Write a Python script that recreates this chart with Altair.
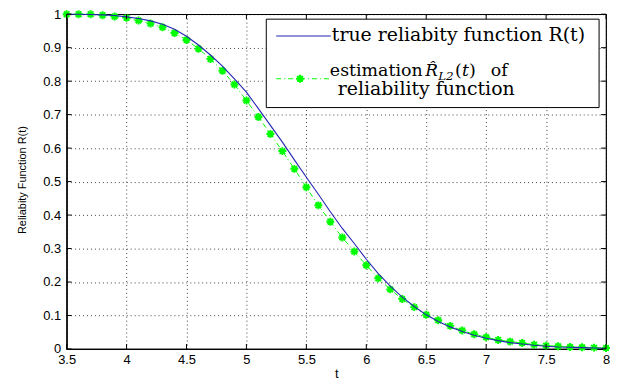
import altair as alt
import pandas as pd

t_values = [3.5, 3.6, 3.7, 3.8, 3.9, 4.0, 4.1, 4.2, 4.3, 4.4, 4.5, 4.6, 4.7, 4.8, 4.9,
            5.0, 5.1, 5.2, 5.3, 5.4, 5.5, 5.6, 5.7, 5.8, 5.9, 6.0, 6.1, 6.2, 6.3, 6.4,
            6.5, 6.6, 6.7, 6.8, 6.9, 7.0, 7.1, 7.2, 7.3, 7.4, 7.5, 7.6, 7.7, 7.8, 7.9, 8.0]
true_R = [1.0, 1.0, 0.999, 0.998, 0.996, 0.992, 0.987, 0.980, 0.970, 0.955, 0.934, 0.908,
          0.878, 0.845, 0.807, 0.767, 0.718, 0.668, 0.618, 0.565, 0.513, 0.462, 0.410,
          0.360, 0.315, 0.268, 0.225, 0.188, 0.155, 0.127, 0.102, 0.082, 0.066, 0.052,
          0.041, 0.032, 0.025, 0.019, 0.015, 0.011, 0.008, 0.006, 0.005, 0.004, 0.003, 0.002]
est_R = [1.0, 1.0, 1.0, 0.997, 0.993, 0.989, 0.981, 0.972, 0.961, 0.944, 0.923, 0.897,
         0.866, 0.831, 0.790, 0.742, 0.693, 0.642, 0.591, 0.538, 0.483, 0.429, 0.380,
         0.333, 0.291, 0.250, 0.211, 0.178, 0.149, 0.125, 0.102, 0.086, 0.069, 0.055,
         0.044, 0.035, 0.027, 0.022, 0.018, 0.013, 0.010, 0.008, 0.006, 0.005, 0.004, 0.003]
x_ticks = [3.5, 4, 4.5, 5, 5.5, 6, 6.5, 7, 7.5, 8]
y_ticks = [0, 0.1, 0.2, 0.3, 0.4, 0.5, 0.6, 0.7, 0.8, 0.9, 1]

W, H = 543, 337
BLUE = "#2424b0"
GREEN = "#00ff00"
STAR = "M-1,0L1,0M0,-1L0,1M-0.7,-0.7L0.7,0.7M-0.7,0.7L0.7,-0.7"

df_true = pd.DataFrame({"t": t_values, "R": true_R})
df_est = pd.DataFrame({"t": t_values, "R": est_R})
df_xt = pd.DataFrame({"t": x_ticks})
df_yt = pd.DataFrame({"R": y_ticks})
dummy = pd.DataFrame({"d": [0]})

xs = alt.Scale(domain=[3.5, 8], nice=False, zero=False)
ys = alt.Scale(domain=[0, 1], nice=False, zero=False)

x_axis = alt.Axis(values=x_ticks, format="~g", title="t", grid=True, labelOverlap=False,
                  labelFlush=False, labelPadding=5, titleY=29, titleBaseline="alphabetic",
                  titleFontSize=13, titleFontWeight="normal", titleFont="Liberation Sans")
y_axis = alt.Axis(values=y_ticks, format="~g", title="Reliabity Function R(t)", grid=True,
                  labelOverlap=False, labelFlush=False, labelPadding=6, titleX=-44,
                  titleY=H / 2 - 2, titleAngle=-90, titleAlign="center", titleBaseline="middle",
                  titleFontSize=11, titleFontWeight="normal", titleFont="Liberation Sans")


def X(field="t:Q"):
    return alt.X(field, scale=xs, axis=x_axis, title="t")


def Y(field="R:Q"):
    return alt.Y(field, scale=ys, axis=y_axis, title="Reliabity Function R(t)")


est_line = alt.Chart(df_est).mark_line(color=GREEN, strokeWidth=1, strokeDash=[5, 3, 1, 3]).encode(
    x=X(), y=Y())
est_pts = alt.Chart(df_est).mark_point(shape=STAR, filled=False, stroke=GREEN, strokeWidth=2,
                                       size=64, opacity=1).encode(x=X(), y=Y())
true_line = alt.Chart(df_true).mark_line(color=BLUE, strokeWidth=1.1).encode(x=X(), y=Y())

tick_style = dict(color="black", strokeWidth=1)
xt_bottom = alt.Chart(df_xt).mark_rule(**tick_style).encode(
    x=X(), y=alt.value(H), y2=alt.value(H - 5))
xt_top = alt.Chart(df_xt).mark_rule(**tick_style).encode(
    x=X(), y=alt.value(0), y2=alt.value(5))
yt_left = alt.Chart(df_yt).mark_rule(**tick_style).encode(
    y=Y(), x=alt.value(0), x2=alt.value(5))
yt_right = alt.Chart(df_yt).mark_rule(**tick_style).encode(
    y=Y(), x=alt.value(W - 5), x2=alt.value(W))

legend_box = alt.Chart(dummy).mark_rect(fill="white", stroke="black", strokeWidth=1).encode(
    x=alt.value(201), x2=alt.value(536), y=alt.value(5), y2=alt.value(94))
leg_blue = alt.Chart(dummy).mark_rule(color=BLUE, strokeWidth=1.1).encode(
    x=alt.value(211), x2=alt.value(266), y=alt.value(22))
leg_green = alt.Chart(dummy).mark_rule(color=GREEN, strokeWidth=1, strokeDash=[5, 3, 1, 3]).encode(
    x=alt.value(211), x2=alt.value(266), y=alt.value(65))
leg_star = alt.Chart(dummy).mark_point(shape=STAR, filled=False, stroke=GREEN, strokeWidth=2,
                                       size=64, opacity=1).encode(
    x=alt.value(235), y=alt.value(65))


def txt(s, x, y, size=19, style="normal"):
    return alt.Chart(dummy).mark_text(text=s, align="left", baseline="alphabetic",
                                      font="DejaVu Serif", fontSize=size, fontStyle=style,
                                      color="black").encode(x=alt.value(x), y=alt.value(y))


texts = [
    txt("true reliabity function R(t)", 267, 27),
    txt("estimation", 265, 62, size=17.5),
    txt("R\u0302", 361, 62, size=17, style="italic"),
    txt("L2", 374, 66, size=12, style="italic"),
    txt("(", 391, 62, size=17.5),
    txt("t", 398, 62, size=17.5, style="italic"),
    txt(")", 405, 62, size=17.5),
    txt("of", 427, 62, size=17.5),
    txt("reliability function", 273, 81),
]

chart = alt.layer(
    est_line, est_pts, true_line,
    xt_bottom, xt_top, yt_left, yt_right,
    legend_box, leg_blue, leg_green, leg_star, *texts,
).properties(
    width=W, height=H,
    autosize=alt.AutoSizeParams(type="none"),
    padding={"left": 59, "top": 5, "right": 6, "bottom": 30},
    background="white",
).configure_view(
    stroke="black", strokeWidth=1.2,
).configure_axis(
    domainColor="black", domainWidth=1.3, ticks=False,
    gridColor="#000", gridDash=[1, 3], gridOpacity=0.75, gridWidth=1,
    labelFont="Liberation Sans", labelFontSize=13, labelColor="black",
    titleColor="black",
)

chart.save("out.html", embed_options={"renderer": "svg", "actions": False})
